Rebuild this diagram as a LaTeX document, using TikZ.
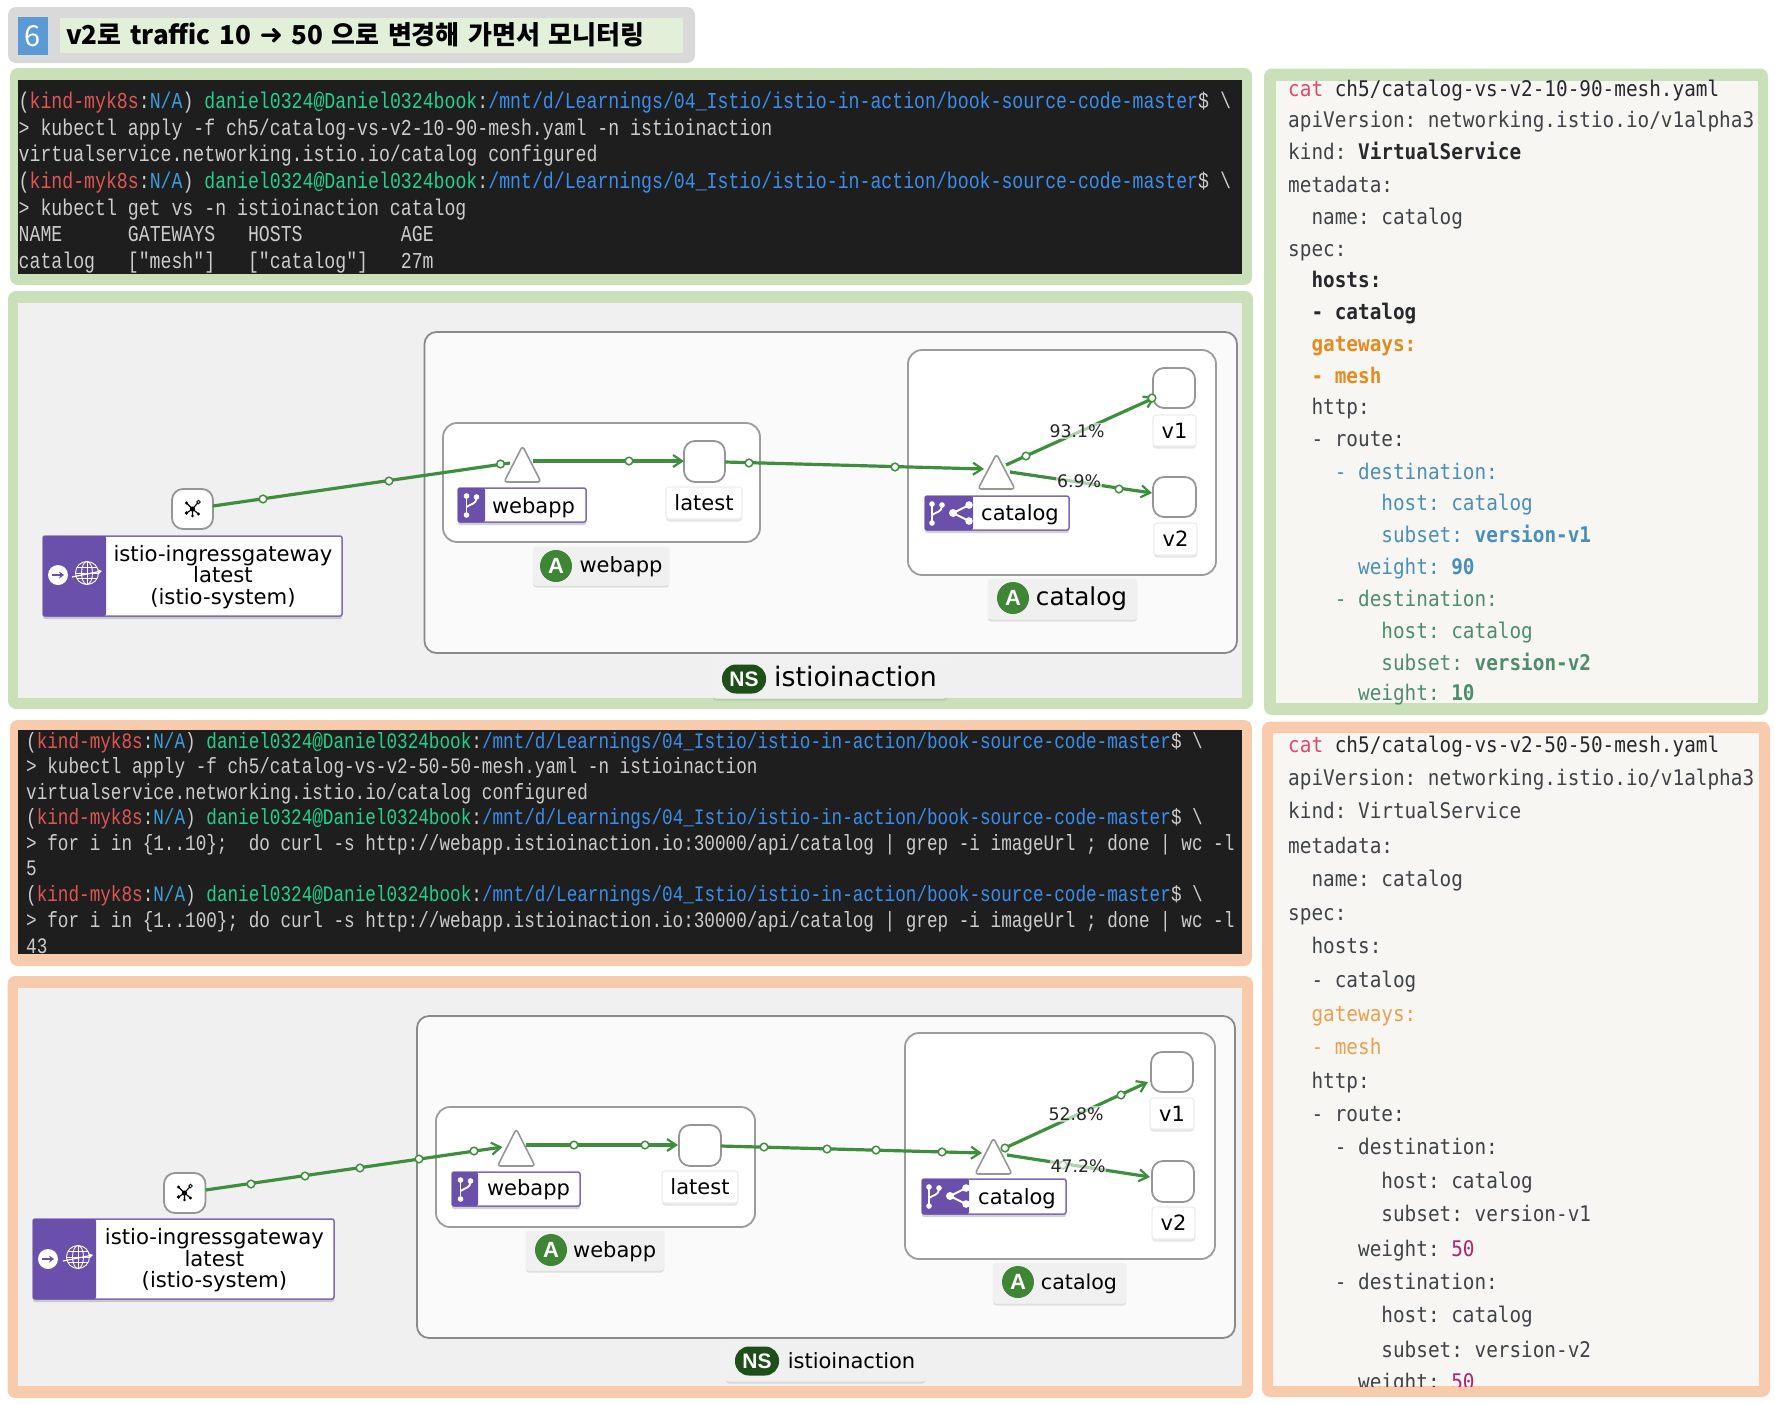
\documentclass[tikz,border=0pt]{standalone}
\usepackage{fontspec}
\setmainfont{DejaVu Sans}
\newfontfamily\krfont{Noto Sans CJK KR}
\newfontfamily\dvfont{DejaVu Sans}
\newfontfamily\badgefont{Liberation Sans}
\newfontfamily\termfont[FakeStretch=0.8]{Liberation Mono}
\newfontfamily\yamlfont[FakeStretch=0.9]{DejaVu Sans Mono}
\usetikzlibrary{arrows.meta,shadows,calc}
\frenchspacing
\definecolor{frgreen}{HTML}{C9E0B8}
\definecolor{frorange}{HTML}{F8CBAD}
\definecolor{frgray}{HTML}{D9D9D9}
\definecolor{ttlgreen}{HTML}{E2F0D9}
\definecolor{ttlblue}{HTML}{5B9BD5}
\definecolor{termbg}{HTML}{1E1E1E}
\definecolor{termfg}{HTML}{CCCCCC}
\definecolor{tred}{HTML}{E05555}
\definecolor{tteal}{HTML}{3B9FD8}
\definecolor{tgreen}{HTML}{23D18B}
\definecolor{tblue}{HTML}{3B8EEA}
\definecolor{panelbg}{HTML}{F0F0F0}
\definecolor{yamlbg}{HTML}{F7F6F3}
\definecolor{nsbg}{HTML}{FAFAFA}
\definecolor{edgegray}{HTML}{8A8A8A}
\definecolor{kiali}{HTML}{6A4FAB}
\definecolor{flowc}{HTML}{3E8E3E}
\definecolor{appgreen}{HTML}{3E8635}
\definecolor{nsgreen}{HTML}{1E4F18}
\definecolor{ydef}{HTML}{3F4347}
\definecolor{ydark}{HTML}{26282B}
\definecolor{ycat}{HTML}{E0486E}
\definecolor{yor}{HTML}{E58B1F}
\definecolor{yorl}{HTML}{EAA04F}
\definecolor{yblue}{HTML}{4A8FB8}
\definecolor{ygreen}{HTML}{4E8C6C}
\definecolor{ymag}{HTML}{B0256E}
\newcommand\bx[7]{\node[boxbase,#1,minimum width={(#5-#3)*1pt},minimum height={(#6-#4)*1pt}] (#2) at ({(#3+#5)/2},{(#4+#6)/2}) {#7};}
\newcommand\prm{{\color{termfg}(}{\color{tred}kind-myk8s}{\color{termfg}:}{\color{tteal}N/A}{\color{termfg})} {\color{tgreen}daniel0324@Daniel0324book}{\color{termfg}:}{\color{tblue}/mnt/d/Learnings/04\_Istio/istio-in-action/book-source-code-master}{\color{termfg}\$ \textbackslash}}
\newcommand\yl[5]{\node[yamltext,#1] (#2) at ({1288+11.65*#3},{#4+7.5}) {#5};}
\newcommand\dotat[2]{\draw[flowdot] (#1,#2) circle (3.8);}
\newcommand\branchic[2]{\begin{scope}[shift={(#1,#2)}]
  \draw[white,line width=1.8] (-5,-8) -- (-5,9);
  \draw[white,line width=1.8] (5,-7) .. controls (5,-1) and (-1,-1) .. (-5,2);
  \fill[white] (-5,-9) circle (2.8) (-5,10) circle (2.8) (5,-8) circle (2.8);
  \end{scope}}
\newcommand\shareic[2]{\begin{scope}[shift={(#1,#2)}]
  \draw[white,line width=2] (9,-8) -- (-7,0) -- (9,8);
  \fill[white] (9,-8) circle (3.8) (-7,0) circle (4) (9,8) circle (3.8);
  \end{scope}}
\newcommand\netic[2]{\begin{scope}[shift={(#1,#2)}]
  \draw[black,line width=1.1] (-6,-5) -- (0,1) -- (6,-6) (0,1) -- (-6,5) (0,1) -- (0,8) (0,1) -- (6,6);
  \fill[black] (0,1) circle (2.6) (-6,-5) circle (1.6) (-6,5) circle (1.8) (6,6) circle (1.6) (0,8) circle (1.3);
  \draw[black,line width=.8,fill=white] (6,-6) circle (1.8);
  \end{scope}}
\newcommand\gwic[4]{\begin{scope}[shift={(#1,#2)}]
  \fill[white] (0,0) circle (10);
  \draw[kiali,line width=2.2,-{Stealth[length=5pt,width=7pt]}] (-6,0) -- (6,0);
  \end{scope}
  \begin{scope}[shift={(#3,#4)},white,line width=.9]
  \draw (0,0) circle (11.5);
  \draw (0,0) ellipse (5.5 and 11.5);
  \draw (-10,-5.5) -- (10,-5.5) (-11.5,0) -- (11.5,0) (-10,5.5) -- (10,5.5) (0,-11.5) -- (0,11.5);
  \draw[line width=1.2,-{Stealth[length=4pt,width=5pt]}] (-15,4) -- (15,-2);
  \end{scope}}
\tikzset{
  boxbase/.style={rectangle,outer sep=0pt,inner sep=0pt,anchor=center},
  titletext/.style={anchor=west,inner sep=0pt,text=black,font={\krfont\bfseries\fontsize{26}{30}\selectfont\spaceskip=8.5pt\relax}},
  panelouter/.style={fill=#1,draw=none,rounded corners=8pt},
  termbox/.style={fill=termbg,draw=none},
  termA/.style={anchor=base west,inner sep=0pt,text=termfg,font={\termfont\fontsize{22.75}{26}\selectfont}},
  termB/.style={anchor=base west,inner sep=0pt,text=termfg,font={\termfont\fontsize{22.08}{26}\selectfont}},
  yamltext/.style={anchor=base west,inner sep=0pt,text=ydef,font={\yamlfont\fontsize{21.5}{26}\selectfont}},
  nsbox/.style={fill=nsbg,draw=edgegray,line width=1.8pt,rounded corners=12pt},
  appbox/.style={fill=white,draw=edgegray!85,line width=1.8pt,rounded corners=14pt},
  wlnode/.style={fill=white,draw=edgegray!90,line width=1.8pt,rounded corners=11pt},
  trihold/.style={draw=none,fill=none},
  tridraw/.style={fill=white,draw=edgegray!90,line width=1.6pt,rounded corners=3pt,line join=round},
  svcbox/.style={fill=white,draw=kiali!85,line width=1.5pt,rounded corners=2pt,drop shadow={shadow xshift=0pt,shadow yshift=-3pt,opacity=.35}},
  purplepart/.style={fill=kiali,rounded corners=2pt},
  whitelbl/.style={fill=white,draw=black!7,line width=1.2pt,rounded corners=3pt,text=black,font={\fontsize{21}{25}\selectfont},drop shadow={shadow xshift=0pt,shadow yshift=-2.5pt,opacity=.2}},
  graylbl/.style={fill=panelbg,draw=black!5,line width=1pt,rounded corners=3pt,drop shadow={shadow xshift=0pt,shadow yshift=-2.5pt,opacity=.22}},
  lbltext/.style={inner sep=0pt,text=black,font={\fontsize{21}{25}\selectfont}},
  gwtext/.style={inner sep=0pt,text=black,align=center,font={\fontsize{21.2}{21.6}\selectfont}},
  badgeA/.style={circle,fill=appgreen,inner sep=0pt,minimum size=32pt,text=white,font={\badgefont\bfseries\fontsize{22}{24}\selectfont}},
  badgeNS/.style={rectangle,rounded corners=14pt,fill=nsgreen,inner sep=0pt,minimum width=44pt,minimum height=29pt,text=white,font={\badgefont\bfseries\fontsize{21}{24}\selectfont}},
  flow/.style={draw=flowc,line width=3.2pt},
  flowtip/.style={flow,-{Straight Barb[length=9pt,width=12pt,line width=2.2pt]}},
  flowdot/.style={draw=flowc,fill=white,line width=1.5pt},
  pct/.style={fill=white,fill opacity=.6,text opacity=1,inner sep=1pt,text=black!85,font={\fontsize{17.3}{20}\selectfont}},
}
\begin{document}
\begin{tikzpicture}[x=1pt,y=-1pt]
\useasboundingbox (0,0) rectangle (1775,1403);
\fill[white] (0,0) rectangle (1775,1403);
% ---------- title
\bx{panelouter=frgray}{ttlframe}{8}{7}{695}{63}{}
\bx{fill=ttlgreen}{ttlfill}{60}{18}{683}{53}{}
\bx{fill=ttlblue,text=white,font={\krfont\fontsize{29}{32}\selectfont}}{ttlnum}{18}{17}{48}{55}{6}
\node[titletext] (ttltext) at (66,35) {v2로 traffic 10 {\dvfont\fontsize{28}{30}\selectfont ➜} 50 으로 변경해 가면서 모니터링};
% ---------- terminal 1
\bx{panelouter=frgreen}{t1frame}{10}{68}{1252}{285}{}
\bx{termbox}{t1bg}{18}{80}{1242}{274}{}
\node[termA] (t1a) at (18.5,108.5) {\prm};
\node[termA] (t1b) at (18.5,135) {> kubectl apply -f ch5/catalog-vs-v2-10-90-mesh.yaml -n istioinaction};
\node[termA] (t1c) at (18.5,161.7) {virtualservice.networking.istio.io/catalog configured};
\node[termA] (t1d) at (18.5,188.4) {\prm};
\node[termA] (t1e) at (18.5,215) {> kubectl get vs -n istioinaction catalog};
\node[termA] (t1f) at (18.5,241.5) {NAME\ \ \ \ \ \ GATEWAYS\ \ \ HOSTS\ \ \ \ \ \ \ \ \ AGE};
\node[termA] (t1g) at (18.5,268) {catalog\ \ \ ["mesh"]\ \ \ ["catalog"]\ \ \ 27m};
% ---------- graph 1
\bx{panelouter=frgreen}{g1frame}{8}{291}{1253}{709}{}
\bx{fill=panelbg}{g1bg}{18}{303}{1242}{698}{}
\bx{nsbox}{g1ns}{424.5}{332}{1237}{653}{}
\bx{appbox}{g1web}{443}{423}{760}{542}{}
\bx{appbox}{g1cat}{908}{350}{1216}{575}{}
\bx{trihold}{g1triw}{504}{446}{541}{482}{}
\bx{trihold}{g1tric}{978}{454}{1015}{489}{}
\bx{wlnode}{g1gw}{172}{489}{213}{529}{}
\bx{wlnode}{g1lat}{684}{441}{725}{482}{}
\bx{wlnode}{g1v1}{1153}{368}{1195}{408}{}
\bx{wlnode}{g1v2}{1153}{477}{1196}{517}{}
\netic{192.5}{508}
% edges
\draw[flow] ([yshift=3pt]g1gw.east) -- ([xshift=6pt,yshift=1pt]g1triw.west);
\draw[flowtip] ([xshift=-8pt,yshift=3pt]g1triw.east) -- ([yshift=0.5pt]g1lat.west);
\draw[flowtip] ([yshift=-0.5pt]g1lat.east) -- ([xshift=6pt,yshift=2.5pt]g1tric.west);
\draw[flowtip] ([xshift=-9pt,yshift=6.5pt]g1tric.east) -- ([xshift=2pt,yshift=-9.5pt]g1v1.west);
\draw[flowtip] ([xshift=-5pt,yshift=-0.5pt]g1tric.east) -- ([xshift=-1pt,yshift=4pt]g1v2.west);
\draw[tridraw] (g1triw.north) -- (g1triw.south east) -- (g1triw.south west) -- cycle;
\draw[tridraw] (g1tric.north) -- (g1tric.south east) -- (g1tric.south west) -- cycle;
\dotat{263}{499}\dotat{389}{481}\dotat{500.5}{464}\dotat{629}{461}\dotat{749}{463}\dotat{895}{467}\dotat{1026}{456}\dotat{1152}{398}\dotat{1119}{489}
\node[pct] (g1p1) at (1077,431) {93.1\%};
\node[pct] (g1p2) at (1079,481) {6.9\%};
% service labels
\bx{svcbox}{g1swl}{458}{488}{586}{522}{}
\fill[purplepart] (g1swl.north west) rectangle ([xshift=27pt]g1swl.south west);
\branchic{471.5}{505}
\node[lbltext] (g1swt) at (533.5,507.5) {webapp};
\bx{svcbox}{g1scl}{925}{496}{1069}{530}{}
\fill[purplepart] (g1scl.north west) rectangle ([xshift=48pt]g1scl.south west);
\branchic{937}{513}\shareic{960}{513}
\node[lbltext] (g1sct) at (1020,515) {catalog};
\bx{whitelbl}{g1llat}{666}{487}{742}{519}{latest}
\bx{whitelbl}{g1lv1}{1153}{415}{1196}{446}{v1}
\bx{whitelbl}{g1lv2}{1154}{523}{1197}{555}{v2}
% gateway label
\bx{svcbox}{g1gwl}{43}{536}{342}{616}{}
\fill[purplepart] (g1gwl.north west) rectangle ([xshift=63pt]g1gwl.south west);
\gwic{58}{575}{87}{573}
\node[gwtext] (g1gwt) at (223,577) {istio-ingressgateway\\latest\\(istio-system)};
% app labels
\bx{graylbl}{g1lwa}{533}{547}{669}{585}{}
\node[badgeA] (g1ba) at (556,566) {A};
\node[lbltext] (g1lwat) at (621,567) {webapp};
\bx{graylbl}{g1lca}{988}{579}{1137}{619}{}
\node[badgeA] (g1bc) at (1013,598) {A};
\node[lbltext,font={\fontsize{24.7}{28}\selectfont}] (g1lcat) at (1081.5,599) {catalog};
\bx{graylbl}{g1lns}{713}{658}{947}{698}{}
\node[badgeNS] (g1bn) at (744,679) {NS};
\node[lbltext,font={\fontsize{26.8}{30}\selectfont}] (g1lnst) at (855.5,676) {istioinaction};
% ---------- yaml 1
\bx{panelouter=frgreen}{y1frame}{1264}{68.5}{1768}{715}{}
\bx{fill=yamlbg}{y1bg}{1276}{80.5}{1758}{703}{}
\yl{}{ya1}{0}{89}{{\color{ycat}cat} {\color{ydark}ch5/catalog-vs-v2-10-90-mesh.yaml}}
\yl{}{ya2}{0}{119.8}{apiVersion: networking.istio.io/v1alpha3}
\yl{}{ya3}{0}{152.3}{kind: {\bfseries\color{ydark}VirtualService}}
\yl{}{ya4}{0}{184.8}{metadata:}
\yl{}{ya5}{2}{217.3}{name: catalog}
\yl{}{ya6}{0}{248.9}{spec:}
\yl{text=ydark}{ya7}{2}{279.7}{\bfseries hosts:}
\yl{text=ydark}{ya8}{2}{312.1}{\bfseries - catalog}
\yl{text=yor}{ya9}{2}{344.2}{\bfseries gateways:}
\yl{text=yor}{ya10}{2}{376.2}{\bfseries - mesh}
\yl{}{ya11}{2}{407.4}{http:}
\yl{}{ya12}{2}{439}{- route:}
\yl{text=yblue}{ya13}{4}{471.5}{- destination:}
\yl{text=yblue}{ya14}{8}{503.2}{host: catalog}
\yl{text=yblue}{ya15}{8}{535.2}{subset: {\bfseries version-v1}}
\yl{text=yblue}{ya16}{6}{566.9}{weight: {\bfseries 90}}
\yl{text=ygreen}{ya17}{4}{598.5}{- destination:}
\yl{text=ygreen}{ya18}{8}{631.4}{host: catalog}
\yl{text=ygreen}{ya19}{8}{662.6}{subset: {\bfseries version-v2}}
\yl{text=ygreen}{ya20}{6}{693.3}{weight: {\bfseries 10}}
% ---------- terminal 2
\bx{panelouter=frorange}{t2frame}{10}{720}{1252}{966}{}
\bx{termbox}{t2bg}{18}{730}{1242}{954}{}
\begin{scope}
\clip (18,730) rectangle (1242,954);
\node[termB] (t2a) at (26,748.7) {\prm};
\node[termB] (t2b) at (26,773.7) {> kubectl apply -f ch5/catalog-vs-v2-50-50-mesh.yaml -n istioinaction};
\node[termB] (t2c) at (26,799) {virtualservice.networking.istio.io/catalog configured};
\node[termB] (t2d) at (26,824.7) {\prm};
\node[termB] (t2e) at (26,850.4) {> for i in \{1..10\};\ \ do curl -s http://webapp.istioinaction.io:30000/api/catalog | grep -i imageUrl ; done | wc -l};
\node[termB] (t2f) at (26,875.7) {5};
\node[termB] (t2g) at (26,901.4) {\prm};
\node[termB] (t2h) at (26,927) {> for i in \{1..100\}; do curl -s http://webapp.istioinaction.io:30000/api/catalog | grep -i imageUrl ; done | wc -l};
\node[termB] (t2i) at (26,953) {43};
\end{scope}
% ---------- graph 2
\bx{panelouter=frorange}{g2frame}{7.5}{976}{1253}{1398}{}
\bx{fill=panelbg}{g2bg}{17.5}{988}{1242}{1386}{}
\bx{nsbox}{g2ns}{417}{1016}{1235}{1338}{}
\bx{appbox}{g2web}{436}{1107}{755}{1227}{}
\bx{appbox}{g2cat}{905}{1033}{1215}{1259}{}
\bx{trihold}{g2triw}{497.5}{1129}{535}{1166}{}
\bx{trihold}{g2tric}{975}{1138}{1012}{1174}{}
\bx{wlnode}{g2gw}{164}{1173}{205.5}{1213}{}
\bx{wlnode}{g2lat}{679}{1125}{721}{1166}{}
\bx{wlnode}{g2v1}{1151}{1052}{1193}{1092}{}
\bx{wlnode}{g2v2}{1152}{1161}{1194}{1202}{}
\netic{184.5}{1192}
\draw[flowtip] ([yshift=3pt]g2gw.east) -- ([xshift=5pt,yshift=0.5pt]g2triw.west);
\draw[flowtip] ([xshift=-9pt,yshift=2.5pt]g2triw.east) -- ([xshift=-1pt,yshift=0.5pt]g2lat.west);
\draw[flowtip] ([yshift=-0.5pt]g2lat.east) -- ([xshift=7pt,yshift=3pt]g2tric.west);
\draw[flowtip] ([xshift=-7pt,yshift=8pt]g2tric.east) -- ([xshift=-3pt,yshift=-10pt]g2v1.west);
\draw[flowtip] ([xshift=-5pt,yshift=1pt]g2tric.east) -- ([xshift=-2pt,yshift=4.5pt]g2v2.west);
\draw[tridraw] (g2triw.north) -- (g2triw.south east) -- (g2triw.south west) -- cycle;
\draw[tridraw] (g2tric.north) -- (g2tric.south east) -- (g2tric.south west) -- cycle;
\dotat{251}{1184}\dotat{305}{1176}\dotat{360}{1168}\dotat{419}{1159}\dotat{474}{1151}\dotat{574}{1145}\dotat{645}{1145}\dotat{764}{1147}\dotat{827}{1149}\dotat{876}{1150}\dotat{942}{1152}\dotat{1005}{1148}\dotat{1121}{1095}\dotat{1063}{1165}
\node[pct] (g2p1) at (1076,1114) {52.8\%};
\node[pct] (g2p2) at (1078,1166) {47.2\%};
\bx{svcbox}{g2swl}{452}{1172}{580}{1206}{}
\fill[purplepart] (g2swl.north west) rectangle ([xshift=26pt]g2swl.south west);
\branchic{465.5}{1189}
\node[lbltext] (g2swt) at (528.5,1190) {webapp};
\bx{svcbox}{g2scl}{922}{1179}{1066}{1214}{}
\fill[purplepart] (g2scl.north west) rectangle ([xshift=47pt]g2scl.south west);
\branchic{934}{1196}\shareic{957}{1196}
\node[lbltext] (g2sct) at (1017,1199) {catalog};
\bx{whitelbl}{g2llat}{662}{1171}{738}{1203}{latest}
\bx{whitelbl}{g2lv1}{1150}{1098}{1194}{1129}{v1}
\bx{whitelbl}{g2lv2}{1152}{1207}{1195}{1239}{v2}
\bx{svcbox}{g2gwl}{33}{1219}{334}{1299}{}
\fill[purplepart] (g2gwl.north west) rectangle ([xshift=63pt]g2gwl.south west);
\gwic{48}{1259}{78}{1257}
\node[gwtext] (g2gwt) at (214.4,1260.5) {istio-ingressgateway\\latest\\(istio-system)};
\bx{graylbl}{g2lwa}{526}{1231}{664}{1270}{}
\node[badgeA] (g2ba) at (551,1250) {A};
\node[lbltext] (g2lwat) at (614.6,1251.5) {webapp};
\bx{graylbl}{g2lca}{993}{1263}{1126}{1303}{}
\node[badgeA] (g2bc) at (1018,1282) {A};
\node[lbltext,font={\fontsize{20.6}{24}\selectfont}] (g2lcat) at (1079,1283.5) {catalog};
\bx{graylbl}{g2lns}{726}{1342}{925}{1381}{}
\node[badgeNS] (g2bn) at (757,1361) {NS};
\node[lbltext] (g2lnst) at (851.5,1361) {istioinaction};
% ---------- yaml 2
\bx{panelouter=frorange}{y2frame}{1262}{721.6}{1770}{1397}{}
\bx{fill=yamlbg}{y2bg}{1273}{732.5}{1759}{1386}{}
\begin{scope}
\clip (1273,732.5) rectangle (1759,1386);
\yl{}{yb1}{0}{744.8}{{\color{ycat}cat} {\color{ydark}ch5/catalog-vs-v2-50-50-mesh.yaml}}
\yl{}{yb2}{0}{777.7}{apiVersion: networking.istio.io/v1alpha3}
\yl{}{yb3}{0}{810.6}{kind: VirtualService}
\yl{}{yb4}{0}{845.7}{metadata:}
\yl{}{yb5}{2}{878.6}{name: catalog}
\yl{}{yb6}{0}{913.2}{spec:}
\yl{}{yb7}{2}{945.7}{hosts:}
\yl{}{yb8}{2}{979.5}{- catalog}
\yl{text=yorl}{yb9}{2}{1014.1}{gateways:}
\yl{text=yorl}{yb10}{2}{1047}{- mesh}
\yl{}{yb11}{2}{1081.2}{http:}
\yl{}{yb12}{2}{1114.1}{- route:}
\yl{}{yb13}{4}{1147}{- destination:}
\yl{}{yb14}{8}{1181.2}{host: catalog}
\yl{}{yb15}{8}{1214.1}{subset: version-v1}
\yl{}{yb16}{6}{1249.2}{weight: {\color{ymag}50}}
\yl{}{yb17}{4}{1282.1}{- destination:}
\yl{}{yb18}{8}{1315.4}{host: catalog}
\yl{}{yb19}{8}{1349.6}{subset: version-v2}
\yl{}{yb20}{6}{1381.7}{weight: {\color{ymag}50}}
\end{scope}
\end{tikzpicture}
\end{document}
